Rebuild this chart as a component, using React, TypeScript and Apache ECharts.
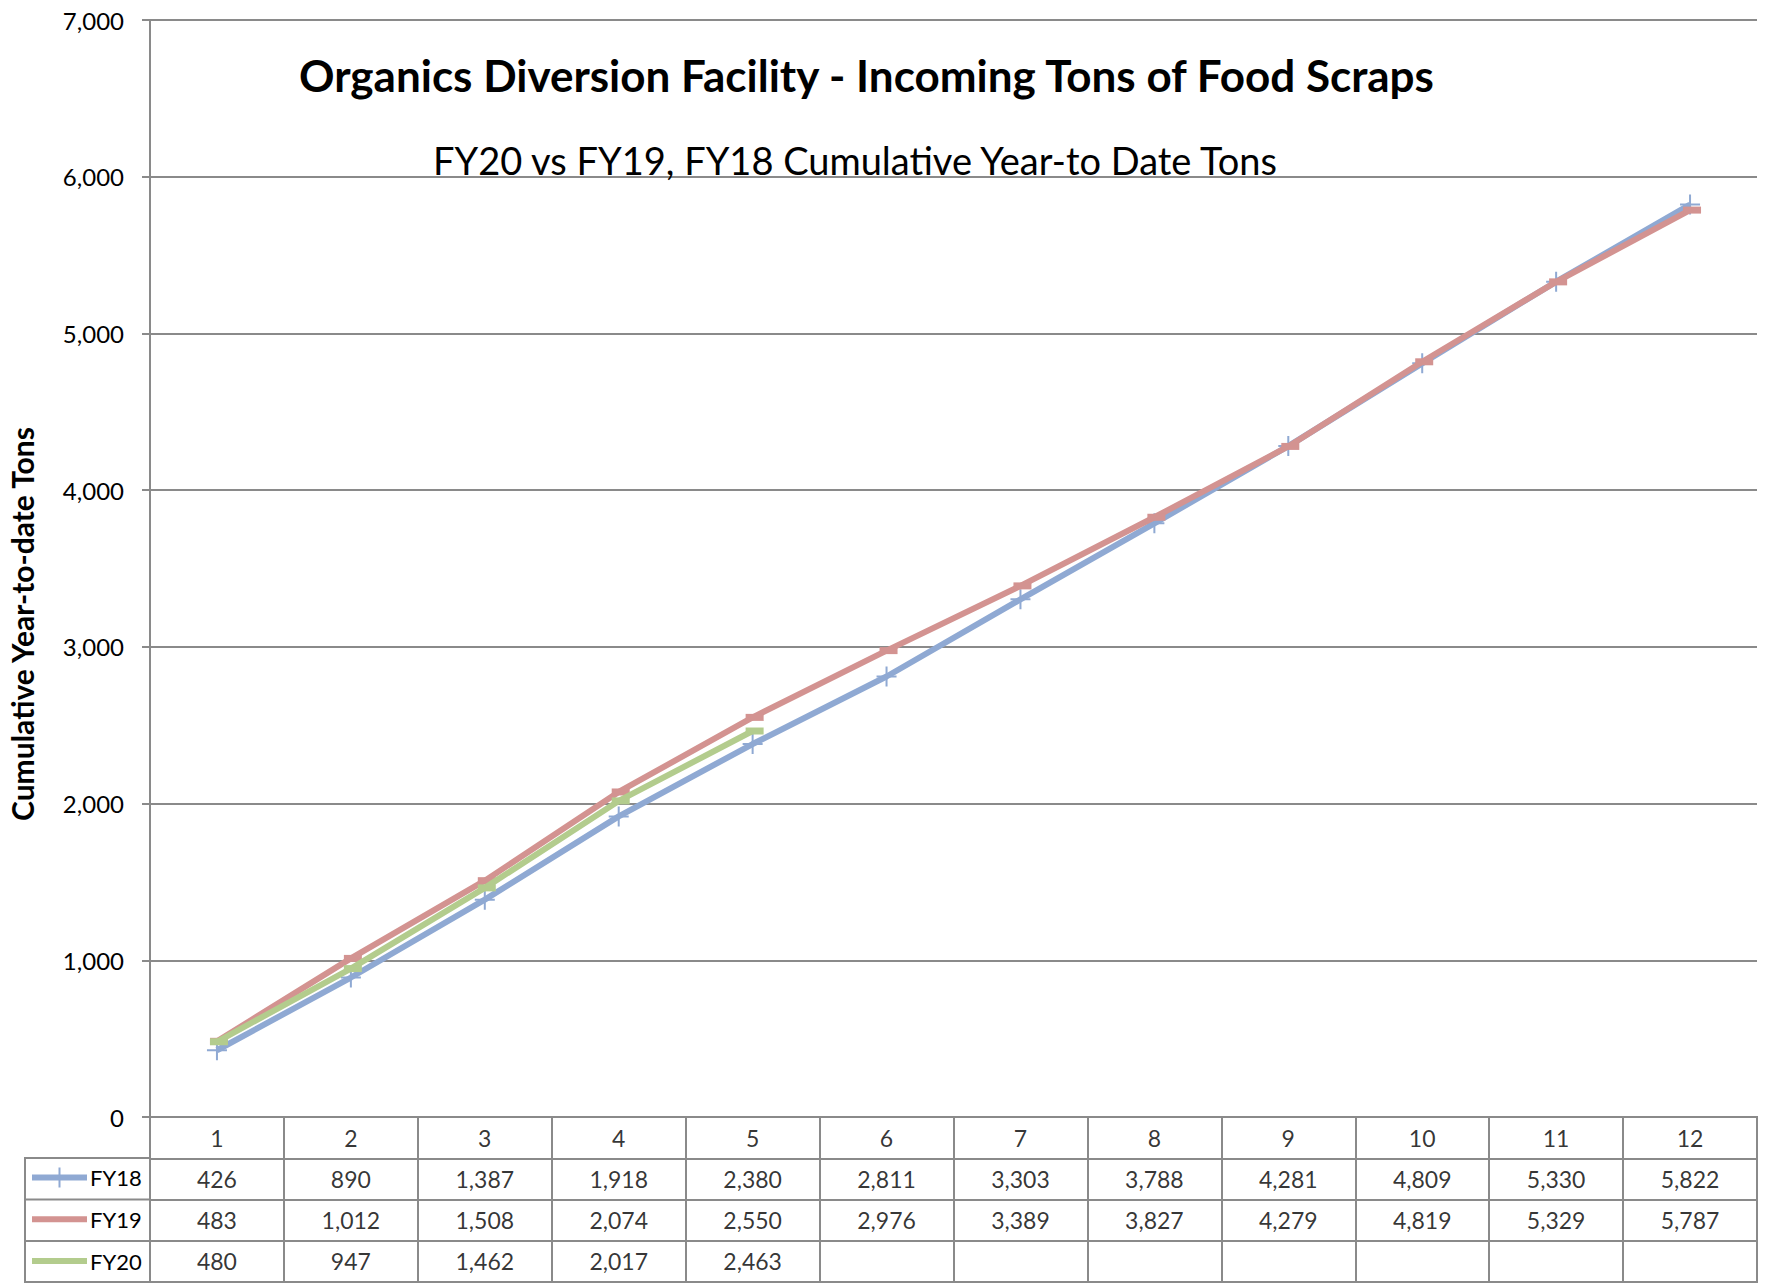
import React, { useEffect, useRef } from "react";
import * as echarts from "echarts";

const months = ["1", "2", "3", "4", "5", "6", "7", "8", "9", "10", "11", "12"];
const seriesNames = ["FY18", "FY19", "FY20"];
const fy18 = [426, 890, 1387, 1918, 2380, 2811, 3303, 3788, 4281, 4809, 5330, 5822];
const fy19 = [483, 1012, 1508, 2074, 2550, 2976, 3389, 3827, 4279, 4819, 5329, 5787];
const fy20 = [480, 947, 1462, 2017, 2463, null, null, null, null, null, null, null];
const colors = ["#8FA9D3", "#D39391", "#B3CC8D"];
const yMin = 0;
const yMax = 7000;
const yInterval = 1000;

const titleText = "Organics Diversion Facility - Incoming Tons of Food Scraps";
const subtitleText = "FY20 vs FY19, FY18 Cumulative Year-to Date Tons";
const yAxisTitle = "Cumulative Year-to-date Tons";

const FONT = "Lato, 'Liberation Sans', sans-serif";
const GRID_COLOR = "#8A8A8A";

const fmt = (v: number | null) => (v == null ? "" : v.toLocaleString("en-US"));

export default function App() {
  const ref = useRef<HTMLDivElement>(null);

  useEffect(() => {
    document.body.style.margin = "0";
    if (!ref.current) return;
    const chart = echarts.init(ref.current, null, { renderer: "svg" });
    const allSeries = [fy18, fy19, fy20];

    const tableData: any[] = [];
    months.forEach((m, c) => tableData.push([c, 0, m]));
    allSeries.forEach((arr, r) => {
      arr.forEach((v, c) => tableData.push([c, r + 1, fmt(v)]));
    });

    const crossPath = "path://M9,0h2v9h9v2h-9v9h-2v-9h-9v-2h9z";
    const legendIcons = [
      "path://M0,9h55v6h-55z M26.5,2h2v20h-2z",
      "path://M0,9h55v6h-55z",
      "path://M0,9h55v6h-55z",
    ];
    const rowCenters = [1178.5, 1220.3, 1262];

    const option: any = {
      animation: false,
      textStyle: { fontFamily: FONT },
      title: [
        {
          text: titleText,
          left: 294,
          top: 48,
          textStyle: { fontFamily: FONT, fontSize: 44, fontWeight: "bold", color: "#000" },
        },
        {
          text: subtitleText,
          left: 428,
          top: 136,
          textStyle: { fontFamily: FONT, fontSize: 38, fontWeight: "normal", color: "#000" },
        },
      ],
      legend: seriesNames.map((n, i) => ({
        data: [{ name: n, icon: legendIcons[i] }],
        orient: "vertical",
        left: 32,
        top: rowCenters[i] - 12,
        itemWidth: 55,
        itemHeight: 24,
        padding: 0,
        selectedMode: false,
        textStyle: { fontFamily: FONT, fontSize: 22, color: "#000", padding: [0, 0, 0, -2] },
      })),
      grid: [
        { left: 150, right: 8, top: 20, bottom: 167, containLabel: false },
        {
          left: 150,
          right: 8,
          top: 1117,
          bottom: 2,
          show: true,
          borderColor: GRID_COLOR,
          borderWidth: 2,
          backgroundColor: "transparent",
        },
      ],
      xAxis: [
        {
          type: "category",
          gridIndex: 0,
          data: months,
          boundaryGap: true,
          axisLine: { show: true, lineStyle: { color: GRID_COLOR, width: 2 } },
          axisTick: { show: false },
          axisLabel: { show: false },
          splitLine: { show: false },
        },
        {
          type: "category",
          gridIndex: 1,
          data: months,
          boundaryGap: true,
          axisLine: { show: false },
          axisTick: { show: false },
          axisLabel: { show: false },
          splitLine: { show: true, interval: 0, lineStyle: { color: GRID_COLOR, width: 2 } },
        },
      ],
      yAxis: [
        {
          type: "value",
          gridIndex: 0,
          min: yMin,
          max: yMax,
          interval: yInterval,
          axisLine: { show: true, lineStyle: { color: GRID_COLOR, width: 2 } },
          axisTick: { show: true, length: 8, lineStyle: { color: GRID_COLOR, width: 2 } },
          axisLabel: {
            fontFamily: FONT,
            fontSize: 24,
            color: "#000",
            margin: 26,
            formatter: (v: number) => fmt(v),
          },
          splitLine: { show: true, lineStyle: { color: GRID_COLOR, width: 2 } },
        },
        {
          type: "category",
          gridIndex: 1,
          data: ["", ...seriesNames],
          inverse: true,
          boundaryGap: true,
          axisLine: { show: false },
          axisTick: { show: false },
          axisLabel: { show: false },
          splitLine: { show: true, interval: 0, lineStyle: { color: GRID_COLOR, width: 2 } },
        },
      ],
      graphic: [
        {
          type: "rect",
          shape: { x: 25, y: 1158, width: 125, height: 124 },
          style: { fill: "none", stroke: GRID_COLOR, lineWidth: 2 },
        },
        {
          type: "line",
          shape: { x1: 25, y1: 1199.5, x2: 150, y2: 1199.5 },
          style: { stroke: GRID_COLOR, lineWidth: 2 },
        },
        {
          type: "line",
          shape: { x1: 25, y1: 1241, x2: 150, y2: 1241 },
          style: { stroke: GRID_COLOR, lineWidth: 2 },
        },
        {
          type: "text",
          x: 22,
          y: 624,
          rotation: Math.PI / 2,
          style: {
            text: yAxisTitle,
            fontFamily: FONT,
            fontSize: 30,
            fontWeight: "bold",
            fill: "#000",
            align: "center",
            verticalAlign: "middle",
          },
        },
      ],
      series: [
        ...allSeries.map((arr, i) => ({
          name: seriesNames[i],
          type: "line",
          xAxisIndex: 0,
          yAxisIndex: 0,
          data: arr,
          connectNulls: false,
          symbol: i === 0 ? crossPath : "rect",
          symbolSize: i === 0 ? 20 : [18, 7],
          symbolOffset: i === 0 ? [0, 0] : [2, 0],
          showSymbol: true,
          lineStyle: { color: colors[i], width: 6 },
          itemStyle: { color: colors[i], borderWidth: 0 },
          emphasis: { disabled: true },
          z: 2 + i,
        })),
        {
          name: "table",
          type: "scatter",
          xAxisIndex: 1,
          yAxisIndex: 1,
          data: tableData,
          symbolSize: 1,
          itemStyle: { color: "rgba(0,0,0,0)" },
          label: {
            show: true,
            position: "inside",
            formatter: (p: any) => p.value[2],
            fontFamily: FONT,
            fontSize: 23,
            color: "#000",
          },
          emphasis: { disabled: true },
          silent: true,
        },
      ],
    };

    chart.setOption(option);
    return () => chart.dispose();
  }, []);

  return <div ref={ref} style={{ width: 1765, height: 1284 }} />;
}
